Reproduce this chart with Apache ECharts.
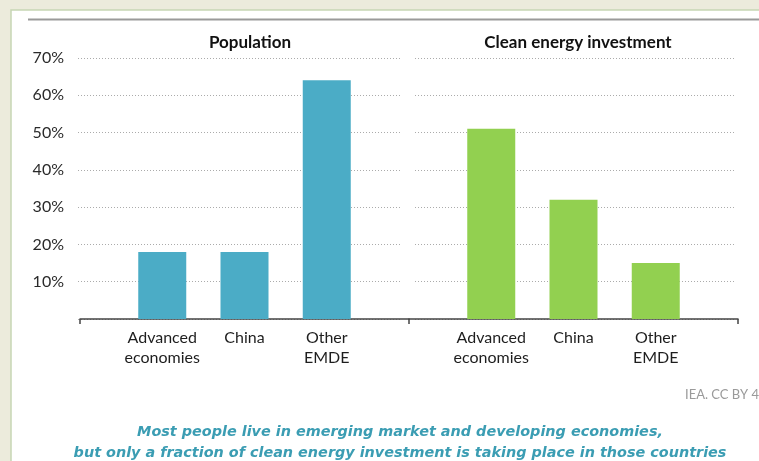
<!DOCTYPE html>
<html>
<head>
<meta charset="utf-8">
<script src="https://cdn.jsdelivr.net/npm/echarts@6/dist/echarts.min.js"></script>
<style>
  html, body { margin: 0; padding: 0; background: #ecebdc; }
  #chart { width: 759px; height: 461px; }
</style>
</head>
<body>
<div id="chart"></div>
<script>
// Category slots: empty end slots keep the three bars at quarter positions of each panel
const categories = ['', 'Advanced\neconomies', 'China', 'Other\nEMDE', ''];
const population = ['-', 18, 18, 64, '-'];
const cleanInvestment = ['-', 51, 32, 15, '-'];
const yTicks = [0, 10, 20, 30, 40, 50, 60, 70];
const panelTitles = ['Population', 'Clean energy investment'];
const sourceNote = 'IEA. CC BY 4.0';
const captionLines = [
  'Most people live in emerging market and developing economies,',
  'but only a fraction of clean energy investment is taking place in those countries'
];

const FONT = 'Lato, "Open Sans", sans-serif';
const CAPTION_FONT = 'italic bold 14.4px "DejaVu Sans", sans-serif';
const yMin = yTicks[0], yMax = yTicks[yTicks.length - 1], yStep = yTicks[1] - yTicks[0];
const plotTop = 58, plotBottom = 461 - 319;

const chart = echarts.init(document.getElementById('chart'));

function categoryAxis(gridIndex) {
  return {
    type: 'category', gridIndex, data: categories, boundaryGap: false,
    axisLine: { lineStyle: { color: '#444', width: 1.5 } },
    axisTick: { length: 5, interval: (i) => i === 0 || i === categories.length - 1, lineStyle: { color: '#444', width: 1.5 } },
    axisLabel: { interval: 0, color: '#1e1e1e', fontFamily: FONT, fontSize: 16, lineHeight: 20, margin: 9 },
    splitLine: { show: false }
  };
}
function valueAxis(gridIndex, showLabels, showSplit) {
  return {
    type: 'value', gridIndex, min: yMin, max: yMax, interval: yStep,
    axisLine: { show: false }, axisTick: { show: false },
    axisLabel: {
      show: showLabels, color: '#2a2a2a', fontFamily: FONT, fontSize: 16, margin: 14,
      formatter: (v) => (v === 0 ? '' : v + '%')
    },
    splitLine: {
      show: showSplit,
      lineStyle: { type: [1, 2], color: '#ababab', width: 1 }
    }
  };
}
function hiddenX(gridIndex) {
  return { type: 'value', gridIndex, min: 0, max: 1, show: false };
}

chart.setOption({
  animation: false,
  backgroundColor: '#ecebdc',
  graphic: [
    { type: 'rect', z: -10, shape: { x: 11, y: 10, width: 760, height: 460 },
      style: { fill: '#ffffff', stroke: '#c6d6b4', lineWidth: 1.5 } },
    { type: 'rect', z: -9, shape: { x: 28, y: 18.5, width: 740, height: 2 },
      style: { fill: '#9a9a9a' } },
    { type: 'text', left: 685, top: 388,
      style: { text: sourceNote, fill: '#9a9a9a', font: '13px ' + FONT } },
    { type: 'text', x: 400, y: 432,
      style: { text: captionLines[0], fill: '#3b9db3', font: CAPTION_FONT, textAlign: 'center', textVerticalAlign: 'middle' } },
    { type: 'text', x: 400, y: 453,
      style: { text: captionLines[1], fill: '#3b9db3', font: CAPTION_FONT, textAlign: 'center', textVerticalAlign: 'middle' } }
  ],
  title: [
    { text: panelTitles[0], left: 245, top: 29, textAlign: 'center',
      textStyle: { fontFamily: FONT, fontWeight: 'bold', fontSize: 17, color: '#111' } },
    { text: panelTitles[1], left: 573, top: 29, textAlign: 'center',
      textStyle: { fontFamily: FONT, fontWeight: 'bold', fontSize: 17, color: '#111' } }
  ],
  grid: [
    { left: 80, width: 329, top: plotTop, bottom: plotBottom },
    { left: 409, width: 329, top: plotTop, bottom: plotBottom },
    { left: 78, width: 324, top: plotTop, bottom: plotBottom },
    { left: 415, width: 321, top: plotTop, bottom: plotBottom }
  ],
  xAxis: [categoryAxis(0), categoryAxis(1), hiddenX(2), hiddenX(3)],
  yAxis: [valueAxis(0, false, false), valueAxis(1, false, false), valueAxis(2, true, true), valueAxis(3, false, true)],
  series: [
    { type: 'bar', name: panelTitles[0], xAxisIndex: 0, yAxisIndex: 0, data: population,
      barWidth: 48, itemStyle: { color: '#4bacc6' }, z: 3 },
    { type: 'bar', name: panelTitles[1], xAxisIndex: 1, yAxisIndex: 1, data: cleanInvestment,
      barWidth: 48, itemStyle: { color: '#92d050' }, z: 3 }
  ]
});
</script>
</body>
</html>
